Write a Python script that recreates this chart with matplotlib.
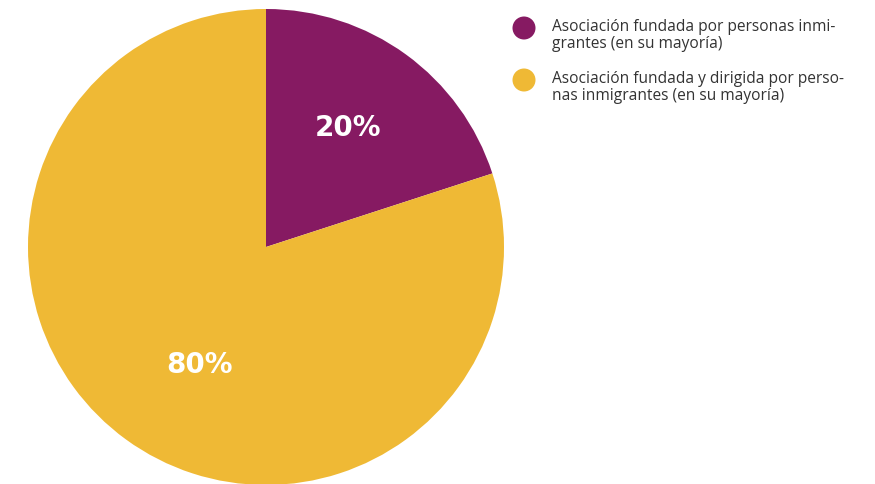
import matplotlib
matplotlib.use('Agg')
import matplotlib.pyplot as plt

# share of associations by founding type
labels = ["Asociación fundada por personas inmi-\ngrantes (en su mayoría)",
          "Asociación fundada y dirigida por perso-\nnas inmigrantes (en su mayoría)"]
shares = [20, 80]
colors = ["#861A62", "#EFB935"]

W, H = 875, 485
fig = plt.figure(figsize=(W / 100, H / 100), dpi=100)
ax = fig.add_axes([0, 0, 1, 1])

cx, cy, r = 266, H - 248, 238
wedges, texts = ax.pie(shares, colors=colors, startangle=90, counterclock=False,
                       center=(cx, cy), radius=r, frame=True,
                       wedgeprops=dict(linewidth=0))
ax.set_xlim(0, W)
ax.set_ylim(0, H)
ax.set_aspect('equal')
ax.axis('off')

# percentage labels inside the slices
label_pos = [(348, H - 128), (200, H - 365)]
for (x, y), v in zip(label_pos, shares):
    ax.text(x, y, f"{v}%", ha='center', va='center', color='white',
            fontsize=20, fontweight='bold', family='DejaVu Sans')

# legend drawn by hand
for i, (lab, col) in enumerate(zip(labels, colors)):
    y = H - 29 - 52 * i
    ax.add_patch(plt.Circle((524, y), 11.5, color=col, lw=0))
    ax.text(552, y + 10, lab, ha='left', va='top', color='#333333',
            fontsize=11.2, family='Open Sans', linespacing=1.12)

fig.savefig('out.png', dpi=100)
